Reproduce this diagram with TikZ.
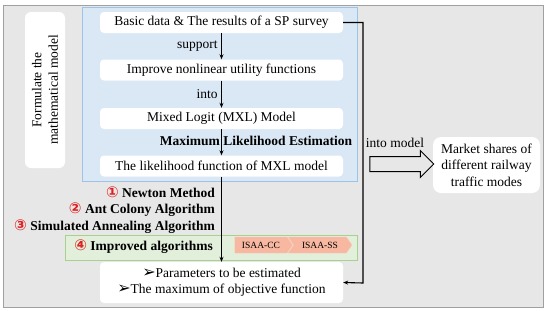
\documentclass[tikz,border=0pt]{standalone}
\usepackage{fontspec}
\setmainfont{Liberation Serif}
\newfontfamily\symfont{DejaVu Sans}
\usetikzlibrary{shapes.arrows,shapes.symbols,arrows.meta,positioning}
\definecolor{framefill}{RGB}{231,231,231}
\definecolor{frameline}{RGB}{160,160,160}
\definecolor{bluefill}{RGB}{218,232,245}
\definecolor{blueline}{RGB}{157,195,230}
\definecolor{greenfill}{RGB}{226,239,218}
\definecolor{greenline}{RGB}{169,209,142}
\definecolor{chevfill}{RGB}{247,183,160}
\definecolor{chevline}{RGB}{250,205,185}
\definecolor{numred}{RGB}{224,32,32}
\newcommand{\cnum}[1]{{\color{numred}\symfont\fontsize{15}{16}\selectfont #1}}
\newcommand{\bullarrow}{{\symfont\fontsize{16}{16}\selectfont ➢}}

\begin{document}
\begin{tikzpicture}[x=1pt,y=-1pt,
  txt/.style={font=\fontsize{13.5}{16.5}\selectfont},
  stepbox/.style={txt,rectangle,rounded corners=4pt,fill=white,minimum width=243pt,minimum height=21pt,inner sep=1pt},
  bold/.style={font=\fontsize{13.5}{16}\selectfont\bfseries,inner sep=1pt},
  chev/.style={signal,signal to=east,signal pointer angle=110,fill=chevfill,draw=chevline,minimum height=16pt,inner sep=1pt,font=\fontsize{9.5}{10}\selectfont},
  flow/.style={-{Stealth[length=5pt,width=4pt]},line width=1.1pt}
]
  \useasboundingbox (0,0) rectangle (550,311);
  \node[draw=frameline,fill=framefill,minimum width=540pt,minimum height=302pt,inner sep=0] (frame) at (273,156) {};
  \node[txt,fill=white,rounded corners=6pt,rotate=90,minimum width=156pt,minimum height=40pt,inner sep=1pt,align=center] (formulate) at (45,90) {Formulate the\\mathematical model};
  \node[draw=blueline,fill=bluefill,minimum width=275pt,minimum height=174pt,inner sep=0] (mxlpart) at (219.5,94) {};
  \node[draw=greenline,fill=greenfill,minimum width=292pt,minimum height=25pt,inner sep=0] (improved) at (211,247.5) {};
  \node[stepbox] (basic)   at (221.5,22.5)  {Basic data \& The results of a SP survey};
  \node[stepbox] (utility) at (221.5,70)    {Improve nonlinear utility functions};
  \node[stepbox] (mxl)     at (221.5,118.5) {Mixed Logit (MXL) Model};
  \node[stepbox] (likely)  at (221.5,166)   {The likelihood function of MXL model};
  \node[stepbox,minimum height=41pt,align=center] (result) at (221.5,282.5) {\bullarrow Parameters to be estimated\\\bullarrow The maximum of objective function};
  \node[txt,fill=white,rounded corners=8pt,minimum width=107pt,minimum height=56pt,align=center,inner sep=1pt] (market) at (486.5,165) {Market shares of\\different railway\\traffic modes};
  \node[bold] (mle) at (256,141) {Maximum Likelihood Estimation};
  \node[bold,anchor=east] (newton) at (216,192) {\cnum{①} Newton Method};
  \node[bold,anchor=east] (ant)    at (216,210) {\cnum{②} Ant Colony Algorithm};
  \node[bold,anchor=east] (sa)     at (216,227) {\cnum{③} Simulated Annealing Algorithm};
  \node[bold,anchor=east] (isaa)   at (214,247) {\cnum{④} Improved algorithms};
  \node[chev,signal from=nowhere,minimum width=58pt] (isaacc) at (261,245) {ISAA-CC};
  \node[chev,signal from=west,minimum width=64pt] (isaass) at (320,245) {ISAA-SS};
  \node[single arrow,draw,line width=1pt,minimum height=64pt,inner sep=7pt,single arrow head extend=6pt] (intoarrow) at (398,164) {};
  \node[txt,inner sep=1pt] (intolbl) at (395,143) {into model};
  \coordinate (bend) at (363,283);
  \draw[flow] (basic) -- node[txt,left]{support} (utility);
  \draw[flow] (utility) -- node[txt,left]{into} (mxl);
  \draw[flow] (mxl) -- (likely);
  \draw[flow] (likely) -- (result);
  \draw[flow] (basic.east) -| (bend) -- (result.east);
\end{tikzpicture}
\end{document}
